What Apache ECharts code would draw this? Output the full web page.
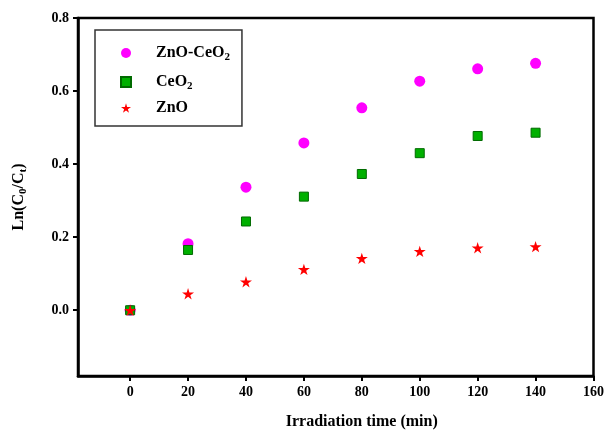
<!DOCTYPE html>
<html>
<head>
<meta charset="utf-8">
<script src="https://cdn.jsdelivr.net/npm/echarts@6/dist/echarts.min.js"></script>
<style>
  html, body { margin: 0; padding: 0; background: #fff; }
  #chart { width: 607px; height: 435px; }
</style>
</head>
<body>
<div id="chart"></div>
<script>
var times = [0, 20, 40, 60, 80, 100, 120, 140];
var znoCeo2 = [0, 0.182, 0.337, 0.458, 0.554, 0.627, 0.661, 0.676];
var ceo2 = [0, 0.165, 0.243, 0.311, 0.373, 0.430, 0.477, 0.486];
var zno = [0, 0.045, 0.078, 0.112, 0.142, 0.161, 0.171, 0.174];
var xTicks = [0, 20, 40, 60, 80, 100, 120, 140, 160];
var yTicks = [0, 0.2, 0.4, 0.6, 0.8];

var font = 'Liberation Serif, Times New Roman, serif';
var starPath = 'path://M50,0 L61,35 L98,35 L68,57 L79,91 L50,70 L21,91 L32,57 L2,35 L39,35 Z';

function pairs(ys) {
  return times.map(function (t, i) { return [t, ys[i]]; });
}

var legendRich = {
  a: { fontFamily: font, fontWeight: 'bold', fontSize: 16, color: '#000', padding: [0, 0, 0, 20], lineHeight: 20 },
  s: { fontFamily: font, fontWeight: 'bold', fontSize: 11, color: '#000', verticalAlign: 'bottom', padding: [10, 0, 0, 0], lineHeight: 20 }
};

var chart = echarts.init(document.getElementById('chart'), null, { renderer: 'canvas' });
chart.setOption({
  animation: false,
  backgroundColor: '#fff',
  grid: { left: 75, right: 12, top: 18, bottom: 57, show: true, borderColor: '#000', borderWidth: 2.5, backgroundColor: 'transparent' },
  legend: {
    orient: 'vertical',
    left: 95,
    top: 30,
    padding: [12, 12, 10, 25],
    borderColor: '#333',
    borderWidth: 1.5,
    itemWidth: 10,
    itemHeight: 10,
    itemGap: 8,
    data: ['ZnO-CeO2', 'CeO2', 'ZnO'],
    textStyle: { rich: legendRich },
    formatter: function (name) {
      if (name === 'ZnO-CeO2') return '{a|ZnO-CeO}{s|2}';
      if (name === 'CeO2') return '{a|CeO}{s|2}';
      return '{a|ZnO}';
    }
  },
  xAxis: {
    type: 'value',
    min: -18,
    max: 160,
    name: 'Irradiation time (min)',
    nameLocation: 'middle',
    nameGap: 38,
    nameTextStyle: { fontFamily: font, fontWeight: 'bold', fontSize: 16, color: '#000', padding: [0, 0, 0, 52] },
    axisLine: { onZero: false, lineStyle: { color: '#000', width: 2.5 } },
    axisTick: { show: true, length: 5, lineStyle: { color: '#000', width: 2 }, customValues: xTicks },
    axisLabel: { fontFamily: font, fontWeight: 'bold', fontSize: 14, color: '#000', margin: 9, customValues: xTicks },
    splitLine: { show: false }
  },
  yAxis: {
    type: 'value',
    min: -0.18,
    max: 0.8,
    name: '{a|Ln(C}{s|0}{a|/C}{s|t}{a|)}',
    nameLocation: 'middle',
    nameGap: 49,
    nameTextStyle: {
      rich: {
        a: { fontFamily: font, fontWeight: 'bold', fontSize: 16, color: '#000', lineHeight: 20 },
        s: { fontFamily: font, fontWeight: 'bold', fontSize: 11, color: '#000', verticalAlign: 'bottom', padding: [10, 0, 0, 0], lineHeight: 20 }
      }
    },
    axisLine: { onZero: false, lineStyle: { color: '#000', width: 2.5 } },
    axisTick: { show: true, length: 5, lineStyle: { color: '#000', width: 2 }, customValues: yTicks },
    axisLabel: {
      fontFamily: font, fontWeight: 'bold', fontSize: 14, color: '#000', margin: 9, customValues: yTicks,
      formatter: function (v) { return v.toFixed(1); }
    },
    splitLine: { show: false }
  },
  series: [
    {
      name: 'ZnO-CeO2',
      type: 'scatter',
      symbol: 'circle',
      symbolSize: 11,
      itemStyle: { color: '#ff00ff', opacity: 1 },
      data: pairs(znoCeo2)
    },
    {
      name: 'CeO2',
      type: 'scatter',
      symbol: 'rect',
      symbolSize: 9,
      itemStyle: { color: '#00b000', borderColor: '#006a00', borderWidth: 1, opacity: 1 },
      data: pairs(ceo2)
    },
    {
      name: 'ZnO',
      type: 'scatter',
      symbol: starPath,
      symbolSize: 12,
      symbolKeepAspect: true,
      itemStyle: { color: '#ff0000', opacity: 1 },
      data: pairs(zno)
    }
  ]
});
</script>
</body>
</html>
